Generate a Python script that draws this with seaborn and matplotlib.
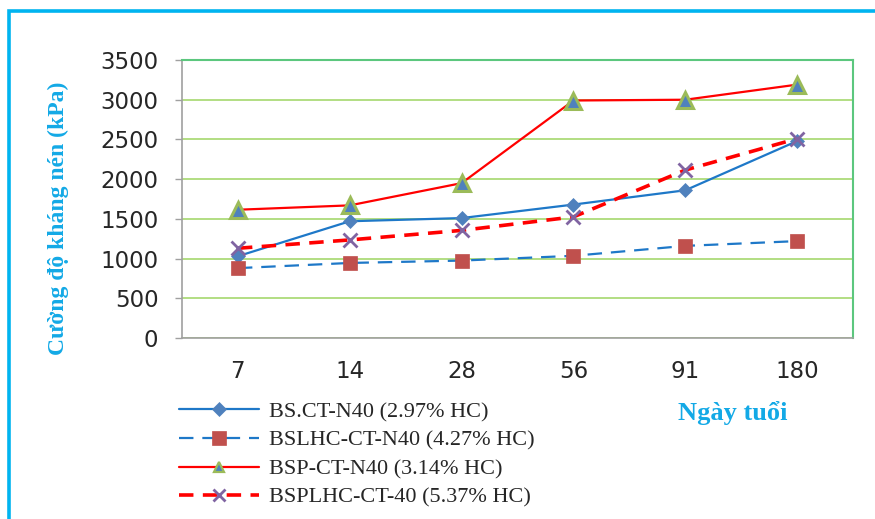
import matplotlib
matplotlib.use("Agg")
import matplotlib.pyplot as plt
from matplotlib.patches import Rectangle
import seaborn as sns
import pandas as pd

# Curing ages (days) and compressive strength (kPa) for each mix
ages = ["7", "14", "28", "56", "91", "180"]
bs_ct = [1030, 1470, 1510, 1680, 1860, 2480]
bslhc_ct = [880, 945, 975, 1035, 1160, 1220]
bsp_ct = [1615, 1670, 1950, 2990, 3000, 3190]
bsplhc_ct = [1130, 1235, 1355, 1525, 2115, 2510]

labels = [
    "BS.CT-N40 (2.97% HC)",
    "BSLHC-CT-N40 (4.27% HC)",
    "BSP-CT-N40 (3.14% HC)",
    "BSPLHC-CT-40 (5.37% HC)",
]
y_ticks = [0, 500, 1000, 1500, 2000, 2500, 3000, 3500]

sns.set_theme(style="white")
plt.rcParams["font.family"] = ["DejaVu Sans"]

fig = plt.figure(figsize=(8.75, 5.19), dpi=100)
ax = fig.add_axes([0.208, 0.3487, 0.767, 0.5357])

accent = "#13A9E6"

styles = [
    dict(color="#1E78C8", linestyle="-", linewidth=1.6, marker="D",
         markersize=7, markerfacecolor="#4F81BD", markeredgecolor="#4F81BD",
         markeredgewidth=0.5),
    dict(color="#1E78C8", linestyle=(0, (6.5, 4)), linewidth=1.6, marker="s",
         markersize=9.5, markerfacecolor="#C0504D", markeredgecolor="#C0504D",
         markeredgewidth=0.5),
    dict(color="#FF0000", linestyle="-", linewidth=1.6, marker="^",
         markersize=11, markerfacecolor="#4F81BD", markeredgecolor="#9BBB59",
         markeredgewidth=2.2),
    dict(color="#FF0000", linestyle=(0, (4, 2.6)), linewidth=2.6, marker="x",
         markersize=10, markeredgecolor="#8064A2", markeredgewidth=2),
]
legend_marker_sizes = [7, 9.5, 7, 8]

series = [bs_ct, bslhc_ct, bsp_ct, bsplhc_ct]
for vals, lab, st in zip(series, labels, styles):
    df = pd.DataFrame({"age": ages, "kpa": vals})
    sns.lineplot(data=df, x="age", y="kpa", ax=ax, label=lab, sort=False, **st)

ax.set_xlim(-0.5, len(ages) - 0.5)
ax.set_ylim(0, 3500)
ax.set_yticks(y_ticks)
ax.set_yticklabels([str(v) for v in y_ticks])
ax.yaxis.grid(True, color="#A6D86E", linewidth=1.2)
ax.xaxis.grid(False)
ax.set_axisbelow(True)

for side in ("top", "right"):
    ax.spines[side].set_color("#5CC77E")
    ax.spines[side].set_linewidth(1.5)
for side in ("left", "bottom"):
    ax.spines[side].set_color("#A0A0A0")
    ax.spines[side].set_linewidth(1.2)

ax.tick_params(axis="y", which="both", left=True, length=5, width=1,
               color="#A0A0A0", pad=12, labelsize=16.5, labelcolor="#262626")
ax.tick_params(axis="x", length=0, pad=16, labelsize=16.5, labelcolor="#262626")
ax.set_xlabel("")
ax.set_ylabel("Cường độ kháng nén (kPa)", fontsize=17, fontweight="bold",
              color=accent, family=["Liberation Serif"])
ax.yaxis.set_label_coords(-0.168, 0.43)

handles, hlabels = ax.get_legend_handles_labels()
ax.get_legend().remove()
leg = fig.legend(handles, hlabels, loc="upper left", bbox_to_anchor=(0.205, 0.226),
                 frameon=False, handlelength=3.6, handletextpad=0.45,
                 labelspacing=0.36, prop={"family": "Liberation Serif", "size": 16},
                 borderaxespad=0, borderpad=0)
for h, ms in zip(leg.legend_handles, legend_marker_sizes):
    h.set_markersize(ms)
leg.legend_handles[2].set_markeredgewidth(1.6)

fig.text(0.838, 0.204, "Ngày tuổi", ha="center", va="center", fontsize=19,
         fontweight="bold", color=accent, family=["Liberation Serif"])

# light-blue frame around the chart
fig.patches.append(Rectangle((0.0105, -0.05), 1.2, 1.028, transform=fig.transFigure,
                             fill=False, edgecolor="#00B4F0", linewidth=2.6,
                             zorder=10))

fig.savefig("out.png", dpi=100, facecolor="white")
